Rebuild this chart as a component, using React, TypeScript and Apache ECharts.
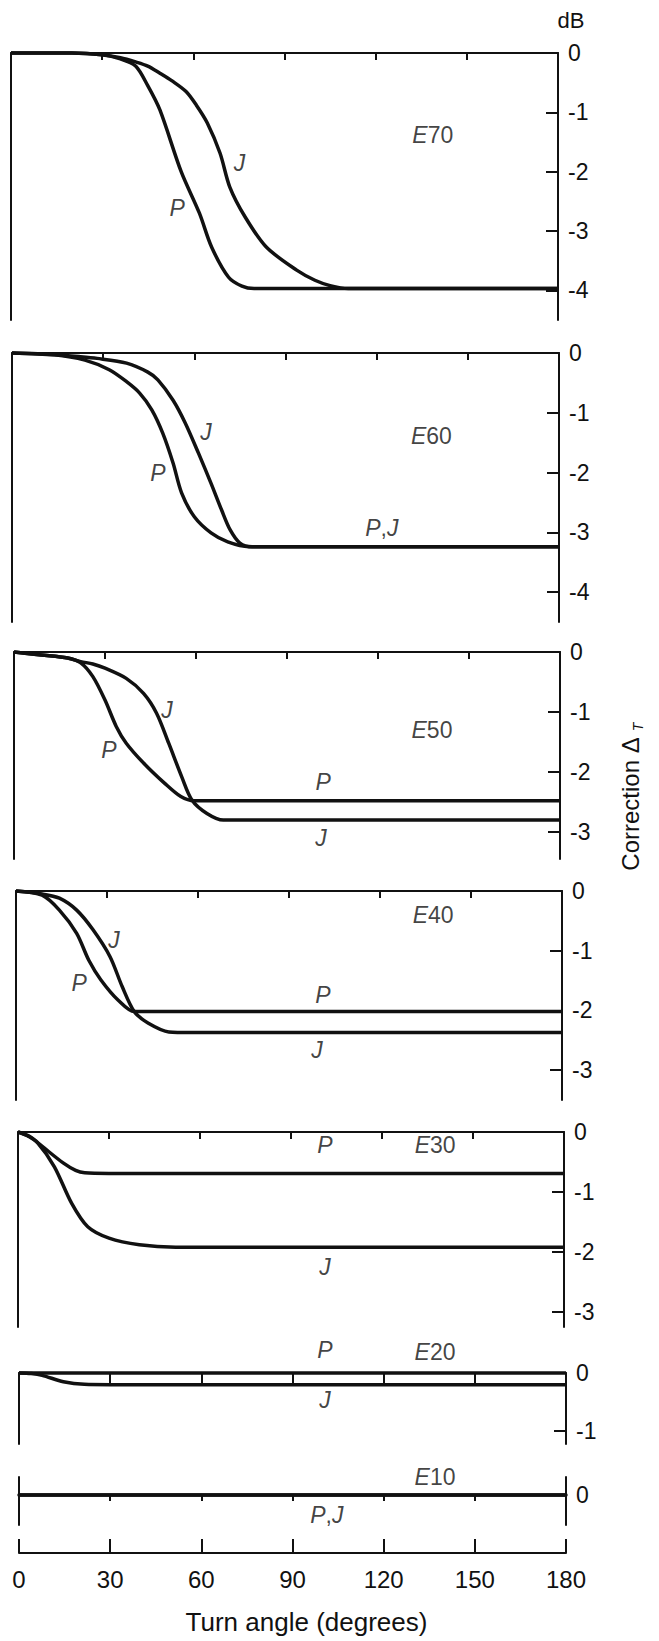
import React, { useEffect, useRef } from 'react';
import * as echarts from 'echarts';

// ---------------- data ----------------
const xTicks = [0, 30, 60, 90, 120, 150, 180];

const yTicksE70 = [0, -1, -2, -3, -4];
const yTicksE60 = [0, -1, -2, -3, -4];
const yTicksE50 = [0, -1, -2, -3];
const yTicksE40 = [0, -1, -2, -3];
const yTicksE30 = [0, -1, -2, -3];
const yTicksE20 = [0, -1];
const yTicksE10 = [0];

// [turn angle (deg), correction (dB)]
const e70P = [[0, 0], [20, 0], [30, -0.03], [36, -0.1], [41, -0.22], [45, -0.55], [49, -0.96], [56, -2.0], [62, -2.7], [66, -3.27], [71.6, -3.78], [76, -3.93], [80, -3.97], [95, -3.97], [180, -3.97]];
const e70J = [[0, 0], [20, 0], [30, -0.03], [36, -0.08], [41, -0.15], [45, -0.22], [49, -0.34], [53, -0.47], [57.6, -0.65], [61, -0.88], [64.6, -1.18], [68.8, -1.69], [72, -2.26], [77, -2.76], [84, -3.27], [94, -3.66], [100, -3.83], [105, -3.92], [111, -3.97], [125, -3.97], [180, -3.97]];

const e60P = [[0, 0], [14, -0.03], [24, -0.12], [32, -0.28], [37.7, -0.48], [42, -0.67], [46, -0.95], [49.6, -1.34], [53, -1.84], [55.8, -2.34], [60, -2.74], [65.5, -3.01], [71, -3.16], [78, -3.24], [90, -3.24], [180, -3.24]];
const e60J = [[0, 0], [14, -0.03], [22, -0.06], [28, -0.09], [37.7, -0.17], [44.7, -0.32], [48, -0.45], [53, -0.79], [57, -1.17], [61.4, -1.68], [65.5, -2.18], [69, -2.63], [71.8, -2.96], [75, -3.18], [79, -3.24], [90, -3.24], [180, -3.24]];

const e50P = [[0, 0], [9, -0.05], [17.7, -0.1], [22, -0.18], [26, -0.41], [30, -0.8], [33.7, -1.24], [37, -1.52], [42.7, -1.85], [49.7, -2.19], [55, -2.41], [59.4, -2.48], [70, -2.48], [180, -2.48]];
const e50J = [[0, 0], [9, -0.05], [17.7, -0.1], [22, -0.16], [26, -0.2], [30, -0.27], [37, -0.44], [42.7, -0.69], [47, -1.02], [51, -1.52], [55.3, -2.08], [58.7, -2.47], [63.6, -2.69], [69, -2.8], [78, -2.8], [180, -2.8]];

const e40P = [[0, 0], [8.6, -0.07], [14.3, -0.32], [20, -0.71], [24, -1.16], [28, -1.49], [33.7, -1.83], [39, -2.02], [48, -2.02], [180, -2.02]];
const e40J = [[0, 0], [8.6, -0.05], [14.3, -0.12], [20, -0.32], [25.4, -0.65], [31, -1.1], [35, -1.6], [39, -2.02], [43.5, -2.21], [50.4, -2.36], [57.6, -2.37], [70, -2.37], [180, -2.37]];

const e30P = [[0, 0], [4, -0.08], [8, -0.24], [15, -0.52], [19, -0.64], [22, -0.68], [30, -0.69], [180, -0.69]];
const e30J = [[0, 0], [3, -0.06], [6.6, -0.19], [12, -0.58], [17.7, -1.19], [23, -1.58], [30, -1.77], [40, -1.88], [52, -1.92], [70, -1.92], [180, -1.92]];

const e20P = [[0, 0], [180, 0]];
const e20J = [[0, 0], [4, -0.01], [7.6, -0.04], [14.6, -0.15], [21.5, -0.195], [30, -0.2], [180, -0.2]];

const e10PJ = [[0, 0], [180, 0]];

// [panel index, deg, dB, text]
const annotations: [number, number, number, string][] = [
  [0, 138.8, -1.38, 'E70'], [0, 75.2, -1.85, 'J'], [0, 54.7, -2.61, 'P'],
  [1, 138, -1.39, 'E60'], [1, 63.8, -1.32, 'J'], [1, 48, -2.0, 'P'], [1, 121.7, -2.93, 'P,J'],
  [2, 137.8, -1.3, 'E50'], [2, 50.4, -0.97, 'J'], [2, 31.3, -1.63, 'P'], [2, 101.9, -2.17, 'P'], [2, 101.2, -3.1, 'J'],
  [3, 137.5, -0.4, 'E40'], [3, 32.3, -0.82, 'J'], [3, 20.8, -1.54, 'P'], [3, 101.2, -1.74, 'P'], [3, 99.2, -2.66, 'J'],
  [4, 137.5, -0.22, 'E30'], [4, 101.2, -0.22, 'P'], [4, 101.2, -2.25, 'J'],
  [5, 136.9, 0.36, 'E20'], [5, 100.7, 0.4, 'P'], [5, 100.7, -0.47, 'J'],
  [6, 136.9, 0.3, 'E10'], [6, 101.3, -0.33, 'P,J'],
];

const curves: [number, number[][]][] = [
  [0, e70P], [0, e70J], [1, e60P], [1, e60J], [2, e50P], [2, e50J],
  [3, e40P], [3, e40J], [4, e30P], [4, e30J], [5, e20P], [5, e20J], [6, e10PJ],
];

const yTicksAll = [yTicksE70, yTicksE60, yTicksE50, yTicksE40, yTicksE30, yTicksE20, yTicksE10];

// ---------------- layout ----------------
const FONT = '"Liberation Sans", Arial, Helvetica, sans-serif';
const INK = '#111';

const panels = [
  { left: 11, top: 53, width: 547, height: 267, min: -4.5, max: 0, tick: 7 },
  { left: 12, top: 353, width: 547, height: 269, min: -4.5, max: 0, tick: 7 },
  { left: 14, top: 652, width: 546, height: 207, min: -3.45, max: 0, tick: 7 },
  { left: 16, top: 891, width: 546, height: 209, min: -3.5, max: 0, tick: 7 },
  { left: 18, top: 1132, width: 546, height: 195, min: -3.25, max: 0, tick: 7 },
  { left: 19, top: 1373, width: 547, height: 71, min: -1.22, max: 0, tick: 11 },
  { left: 19, top: 1477, width: 547, height: 48, min: -0.5, max: 0.3, tick: 6 },
];
const axisPanel = { left: 19, top: 1539, width: 547, height: 14 };

function toRich(t: string) {
  return t.replace(/[EPJ]/g, (c) => `{i|${c}}`);
}

function buildOption() {
  const grid: any[] = [];
  const xAxis: any[] = [];
  const yAxis: any[] = [];
  const series: any[] = [];

  panels.forEach((p, i) => {
    grid.push({ left: p.left, top: p.top, width: p.width, height: p.height, show: false, outerBoundsMode: 'none', containLabel: false });
    const isE10 = i === 6;
    xAxis.push({
      type: 'value', gridIndex: i, min: 0, max: 180, interval: 30,
      position: isE10 ? 'bottom' : 'top',
      axisLine: { show: true, onZero: isE10, lineStyle: { color: INK, width: isE10 ? 3.5 : 2 } },
      axisTick: { show: true, inside: !isE10, length: p.tick, lineStyle: { color: INK, width: 2 } },
      axisLabel: { show: false },
      splitLine: { show: false },
    });
    const ticks = yTicksAll[i];
    yAxis.push({
      type: 'value', gridIndex: i, min: p.min, max: p.max, position: 'right',
      axisLine: { show: true, onZero: false, lineStyle: { color: INK, width: 2 } },
      axisTick: { show: !isE10, inside: true, length: 12, customValues: ticks, lineStyle: { color: INK, width: 2 } },
      axisLabel: { show: true, customValues: ticks, margin: 10, color: INK, fontSize: 23, fontFamily: FONT },
      splitLine: { show: false },
    });
    yAxis.push({
      type: 'value', gridIndex: i, min: p.min, max: p.max, position: 'left',
      axisLine: { show: true, onZero: false, lineStyle: { color: INK, width: 2 } },
      axisTick: { show: false }, axisLabel: { show: false }, splitLine: { show: false },
    });
  });

  // bottom turn-angle axis
  grid.push({ left: axisPanel.left, top: axisPanel.top, width: axisPanel.width, height: axisPanel.height, show: false, outerBoundsMode: 'none', containLabel: false });
  xAxis.push({
    type: 'value', gridIndex: 7, min: 0, max: 180, interval: 30, position: 'bottom',
    axisLine: { show: true, onZero: false, lineStyle: { color: INK, width: 2 } },
    axisTick: { show: true, inside: true, length: 14, customValues: xTicks, lineStyle: { color: INK, width: 2 } },
    axisLabel: { show: true, customValues: xTicks, margin: 14, color: INK, fontSize: 24, fontFamily: FONT },
    splitLine: { show: false },
    name: 'Turn angle (degrees)', nameLocation: 'middle', nameGap: 56,
    nameTextStyle: { color: INK, fontSize: 26, fontFamily: FONT, padding: [0, 0, 0, 28] },
  });
  yAxis.push({ type: 'value', gridIndex: 7, min: 0, max: 1, show: false });

  curves.forEach(([panel, data]) => {
    series.push({
      type: 'line', xAxisIndex: panel, yAxisIndex: panel * 2, data,
      showSymbol: false, symbol: 'none', smooth: 0.3,
      lineStyle: { color: INK, width: 3.5 }, silent: true, clip: false,
    });
  });

  panels.forEach((_, i) => {
    const data = annotations.filter((a) => a[0] === i).map((a) => [a[1], a[2], a[3]]);
    series.push({
      type: 'scatter', xAxisIndex: i, yAxisIndex: i * 2, data,
      symbol: 'circle', symbolSize: 1, itemStyle: { color: 'rgba(0,0,0,0)' },
      silent: true, clip: false,
      label: {
        show: true, position: 'inside', color: INK, fontSize: 23, fontFamily: FONT,
        formatter: (prm: any) => toRich(prm.data[2]),
        rich: { i: { fontStyle: 'italic', fontSize: 23, fontFamily: FONT, color: INK } },
      },
    });
  });

  return {
    animation: false,
    backgroundColor: '#fff',
    grid, xAxis, yAxis, series,
    graphic: [
      { type: 'text', x: 571, y: 20, style: { text: 'dB', fontSize: 22, fontFamily: FONT, fill: INK, align: 'center', verticalAlign: 'middle' } },
      {
        type: 'text', x: 630, y: 797, rotation: Math.PI / 2,
        style: {
          text: 'Correction Δ {t|T}', fontSize: 24, fontFamily: FONT, fill: INK, align: 'center', verticalAlign: 'middle',
          lineHeight: 30,
          rich: { t: { fontSize: 14, fontStyle: 'italic', fontFamily: FONT, fill: INK, lineHeight: 30, verticalAlign: 'bottom' } },
        },
      },
    ],
  };
}

export default function App() {
  const ref = useRef<HTMLDivElement>(null);
  useEffect(() => {
    if (!ref.current) return;
    const chart = echarts.init(ref.current, null, { renderer: 'svg' });
    chart.setOption(buildOption() as any);
    return () => chart.dispose();
  }, []);
  return <div ref={ref} style={{ position: 'absolute', left: 0, top: 0, width: 659, height: 1641, background: '#fff' }} />;
}
